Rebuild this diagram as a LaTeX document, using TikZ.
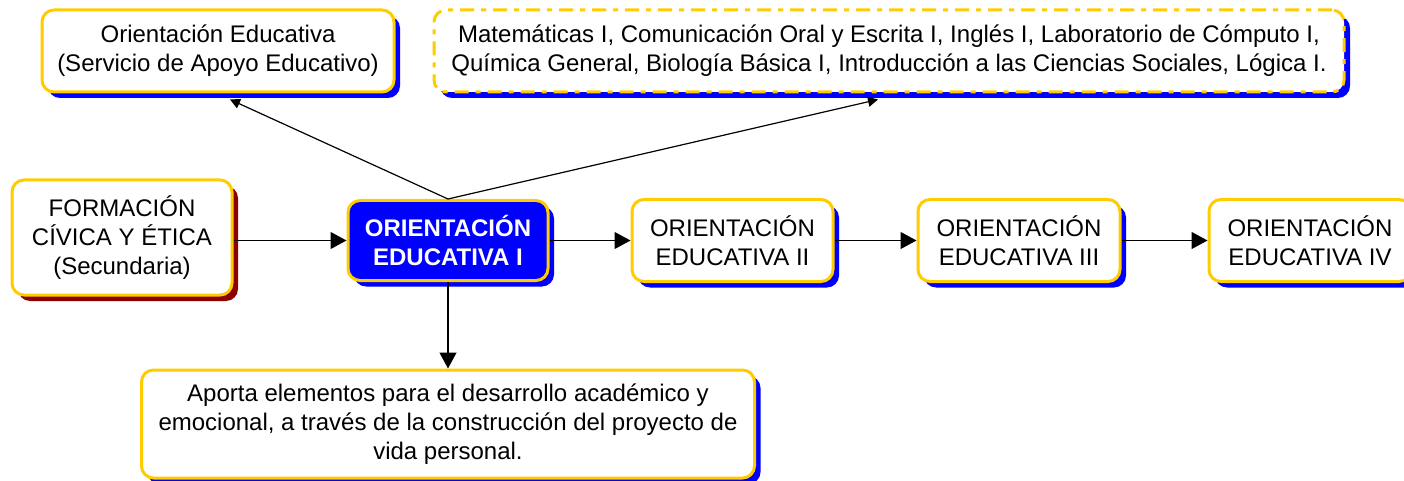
\documentclass[tikz,border=0pt]{standalone}
\usepackage{fontspec}
\setmainfont{Liberation Sans}
\usetikzlibrary{arrows.meta,shadows,calc}
\definecolor{boxyellow}{RGB}{255,204,0}
\definecolor{shadowblue}{RGB}{0,0,255}
\definecolor{shadowred}{RGB}{140,0,0}
\tikzset{
  box/.style={draw=boxyellow, line width=1.5pt, rounded corners=6pt, fill=white,
    align=center, inner sep=0pt, font=\fontsize{12}{14.5}\selectfont,
    general shadow={fill=#1, shadow xshift=3pt, shadow yshift=-3pt}},
  box/.default=shadowblue,
  link/.style={-{Triangle[length=8pt,width=8.5pt]}, line width=0.6pt},
  thinlink/.style={-{Triangle[length=5pt,width=5pt]}, line width=0.6pt}
}
\begin{document}
\begin{tikzpicture}[x=0.5pt, y=-0.5pt]
        \useasboundingbox (0,0) rectangle (1404,481);
        % upper row
        \node[box, minimum width=176pt, minimum height=41pt] (orsae) at (218,51)
            {Orientación Educativa\\(Servicio de Apoyo Educativo)};
        \node[box, dash pattern=on 7pt off 3.5pt on 2.5pt off 3.5pt, minimum width=455pt, minimum height=41pt] (materias) at (889,51)
            {Matemáticas I, Comunicación Oral y Escrita I, Inglés I, Laboratorio de Cómputo I,\\
             Química General, Biología Básica I, Introducción a las Ciencias Sociales, Lógica I.};
        % middle row
        \node[box=shadowred, minimum width=110pt, minimum height=57.5pt] (formacion) at (122,237.5)
            {FORMACIÓN\\CÍVICA Y ÉTICA\\(Secundaria)};
        \node[box, fill=shadowblue, text=white, font=\fontsize{12}{14.5}\selectfont\bfseries,
            minimum width=100pt, minimum height=40pt] (oe1) at (448,240.5) {ORIENTACIÓN\\EDUCATIVA I};
        \node[box, minimum width=100.5pt, minimum height=41pt] (oe2) at (732.5,240.5) {ORIENTACIÓN\\EDUCATIVA II};
        \node[box, minimum width=101pt, minimum height=41pt] (oe3) at (1019,240.5) {ORIENTACIÓN\\EDUCATIVA III};
        \node[box, minimum width=101pt, minimum height=41pt] (oe4) at (1310,240.5) {ORIENTACIÓN\\EDUCATIVA IV};
        % lower row
        \node[box, minimum width=306.5pt, minimum height=54pt] (aporta) at (448,424)
            {Aporta elementos para el desarrollo académico y\\
             emocional, a través de la construcción del proyecto de\\vida personal.};
        % connectors
        \draw[link] (formacion.east |- oe1.west) -- (oe1.west);
        \draw[link] (oe1) -- (oe2);
        \draw[link] (oe2) -- (oe3);
        \draw[link] (oe3) -- (oe4);
        \draw[link] (oe1) -- (aporta);
        \draw[thinlink] (oe1.north) -- ($(orsae.south)+(12,6)$);
        \draw[thinlink] (oe1.north) -- ($(materias.south)+(-11,6)$);
    \end{tikzpicture}
\end{document}
